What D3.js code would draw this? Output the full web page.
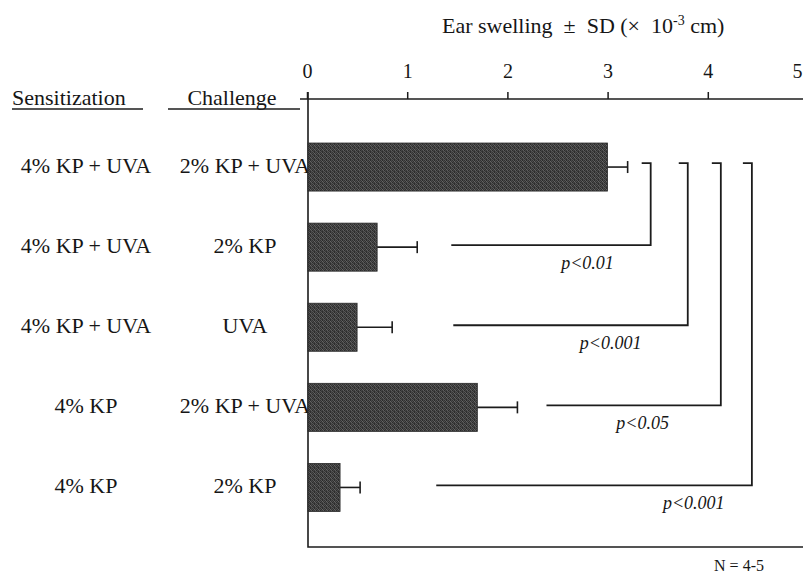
<!DOCTYPE html>
<html>
<head>
<meta charset="utf-8">
<script src="https://cdn.jsdelivr.net/npm/d3@7"></script>
</head>
<body style="margin:0">
<svg id="chart" width="803" height="574"><style>text, tspan { font-family: "Liberation Serif" !important; }</style></svg>
<script>
// Groups: sensitization / challenge regimen
const sensitization = ["4% KP + UVA", "4% KP + UVA", "4% KP + UVA", "4% KP", "4% KP"];
const challenge     = ["2% KP + UVA", "2% KP", "UVA", "2% KP + UVA", "2% KP"];
// Mean ear swelling (x 10^-3 cm) and standard deviation
const swelling = [3.0, 0.7, 0.5, 1.7, 0.33];
const sd       = [0.2, 0.4, 0.35, 0.4, 0.2];
// Axis ticks
const tickValues = [0, 1, 2, 3, 4, 5];
// Comparisons against the first group
const compareTo = [1, 2, 3, 4];
const pValues   = ["p<0.01", "p<0.001", "p<0.05", "p<0.001"];
const sampleNote = "N = 4-5";

const svg = d3.select("#chart");
const W = 803, H = 574;
const ink = "#1c1c1c";
const textInk = "#161616";

const x = d3.scaleLinear().domain([0, 5]).range([307, 808]);
const y = d3.scaleBand().domain(d3.range(swelling.length))
  .range([127, 527.5]).paddingInner(0.4).paddingOuter(0.2);
const axisY = 99, bottomY = 547;

// Serif face for every text element
function label(sel) {
  return sel.style("font-family", () => `"Liberation Serif"`).attr("fill", textInk);
}

// Stippled fill for the bars
const defs = svg.append("defs");
const pat = defs.append("pattern").attr("id", "stipple")
  .attr("patternUnits", "userSpaceOnUse").attr("width", 4).attr("height", 4);
const grains = [
  ["#333", "#5a5a5a", "#2b2b2b", "#4a4a4a"],
  ["#4f4f4f", "#2e2e2e", "#666", "#363636"],
  ["#2a2a2a", "#474747", "#3a3a3a", "#5e5e5e"],
  ["#555", "#383838", "#2f2f2f", "#444"]
];
grains.forEach((row, r) => row.forEach((c, k) => {
  pat.append("rect").attr("x", k).attr("y", r).attr("width", 1).attr("height", 1).attr("fill", c);
}));

// Title
const title = label(svg.append("text")).attr("x", 442).attr("y", 33)
  .attr("font-size", 22).attr("xml:space", "preserve");
title.append("tspan").text("Ear swelling  ±  SD (×  10");
title.append("tspan").attr("font-size", 14).attr("dy", -8).text("-3");
title.append("tspan").attr("dy", 8).text(" cm)");

// Column headers
label(svg.append("text")).attr("x", 12).attr("y", 105).attr("font-size", 22).text("Sensitization");
svg.append("line").attr("x1", 12).attr("x2", 143).attr("y1", 109).attr("y2", 109)
  .attr("stroke", ink).attr("stroke-width", 1.5);
label(svg.append("text")).attr("x", 232).attr("y", 105).attr("text-anchor", "middle")
  .attr("font-size", 22).text("Challenge");
svg.append("line").attr("x1", 168).attr("x2", 300).attr("y1", 109).attr("y2", 109)
  .attr("stroke", ink).attr("stroke-width", 1.5);

// Row labels
const rowMid = i => y(i) + y.bandwidth() / 2;
label(svg.append("g").selectAll("text").data(sensitization).join("text"))
  .attr("x", 86).attr("y", (d, i) => rowMid(i) + 6).attr("text-anchor", "middle")
  .attr("font-size", 22).text(d => d);
label(svg.append("g").selectAll("text").data(challenge).join("text"))
  .attr("x", 245).attr("y", (d, i) => rowMid(i) + 6).attr("text-anchor", "middle")
  .attr("font-size", 22).text(d => d);

// Top axis
const axis = svg.append("g").attr("transform", `translate(0,${axisY})`)
  .call(d3.axisTop(x).tickValues(tickValues).tickFormat(d3.format("d"))
    .tickSizeInner(7).tickSizeOuter(0).tickPadding(14));
axis.attr("font-size", 20);
axis.select(".domain").remove();
axis.selectAll(".tick line").attr("stroke", ink).attr("stroke-width", 1.5);
label(axis.selectAll(".tick text"))
  .filter(d => d === 5).attr("text-anchor", "end").attr("dx", -6);
svg.append("line").attr("x1", 300).attr("x2", W).attr("y1", axisY).attr("y2", axisY)
  .attr("stroke", ink).attr("stroke-width", 1.5);
// Left and bottom frame
svg.append("path")
  .attr("d", `M${x(0) + 1},${axisY - 7} V${bottomY} H${W}`)
  .attr("fill", "none").attr("stroke", ink).attr("stroke-width", 1.6);

// Bars
svg.append("g").selectAll("rect").data(swelling).join("rect")
  .attr("x", x(0) + 1).attr("y", (d, i) => y(i))
  .attr("width", d => x(d) - x(0) - 1).attr("height", y.bandwidth())
  .attr("fill", "url(#stipple)").attr("stroke", "#2a2a2a").attr("stroke-width", 0.8);

// Error bars (+SD)
const eb = svg.append("g").attr("stroke", ink).attr("stroke-width", 1.6);
swelling.forEach((v, i) => {
  const cy = rowMid(i);
  eb.append("line").attr("x1", x(v)).attr("x2", x(v + sd[i])).attr("y1", cy).attr("y2", cy);
  eb.append("line").attr("x1", x(v + sd[i])).attr("x2", x(v + sd[i]))
    .attr("y1", cy - 6).attr("y2", cy + 6);
});

// Significance brackets (extents in axis units)
const bracketRight = [3.43, 3.80, 4.13, 4.44];
const bracketLeft  = [1.44, 1.46, 2.39, 1.29];
const labelAt      = [2.80, 3.03, 3.35, 3.86];
const br = svg.append("g").attr("fill", "none").attr("stroke", ink).attr("stroke-width", 1.8);
compareTo.forEach((t, k) => {
  const top = rowMid(0) - 4, bot = rowMid(t) - 2;
  br.append("path").attr("d",
    `M${x(bracketRight[k]) - 9},${top} H${x(bracketRight[k])} V${bot} H${x(bracketLeft[k])}`);
  label(svg.append("text")).attr("x", x(labelAt[k])).attr("y", bot + 23.5)
    .attr("text-anchor", "middle").attr("font-size", 18).attr("font-style", "italic")
    .text(pValues[k]);
});

// Sample size note
label(svg.append("text")).attr("x", 739).attr("y", 571).attr("text-anchor", "middle")
  .attr("font-size", 16).text(sampleNote);
</script>
</body>
</html>
